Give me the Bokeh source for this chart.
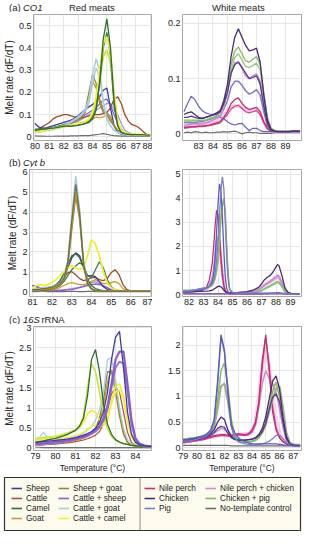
from bokeh.plotting import figure
from bokeh.layouts import column, row
from bokeh.models import FixedTicker, Legend, LegendItem, Range1d, Span
from bokeh.core.properties import value
from bokeh.embed import file_html
from bokeh.resources import INLINE

FONT = "Liberation Sans"

# ---------------- colours of the series ----------------
COL = {
    "Sheep": "#3c3c9e", "Cattle": "#b0503a", "Camel": "#2e6b36", "Goat": "#c99a36",
    "Sheep + goat": "#8c8a3a", "Cattle + sheep": "#8c5ccc", "Cattle + goat": "#a8cce2",
    "Cattle + camel": "#eeee3a", "Nile perch": "#c0306e", "Chicken": "#4a2a7c",
    "Pig": "#7c7cc8", "Nile perch + chicken": "#cc8ed2", "Chicken + pig": "#82bc62",
    "No-template control": "#6e6e6e",
}
LEG_COL1 = ["Sheep", "Cattle", "Camel", "Goat"]
LEG_COL2 = ["Sheep + goat", "Cattle + sheep", "Cattle + goat", "Cattle + camel"]
LEG_COL3 = ["Nile perch", "Chicken", "Pig"]
LEG_COL4 = ["Nile perch + chicken", "Chicken + pig", "No-template control"]

# panel headings: (text, style)
HEAD_A = [("(a)", "normal"), ("CO1", "italic")]
HEAD_B = [("(b)", "normal"), ("Cyt b", "italic")]
HEAD_C = [("(c)", "normal"), ("16S", "italic"), ("rRNA", "normal")]
COL_TITLES = ["Red meats", "White meats"]

# ---------------- (a) CO1, red meats ----------------
XA_RED = [80.0, 80.25, 80.5, 80.75, 81.0, 81.25, 81.5, 81.75, 82.0, 82.25, 82.5, 82.75,
          83.0, 83.25, 83.5, 83.75, 84.0, 84.25, 84.5, 84.75, 85.0, 85.25, 85.5, 85.75,
          86.0, 86.25, 86.5, 86.75, 87.0, 87.25, 87.5, 87.75, 88.0]
a_sheep = [0.060, 0.045, 0.040, 0.040, 0.045, 0.050, 0.055, 0.060, 0.065, 0.070, 0.075, 0.085,
           0.095, 0.110, 0.125, 0.135, 0.145, 0.160, 0.180, 0.210, 0.220, 0.130, 0.050, 0.020,
           0.012, 0.010, 0.010, 0.010, 0.010, 0.008, 0.008, 0.008, 0.008]
a_cattle = [0.030, 0.035, 0.045, 0.055, 0.065, 0.080, 0.090, 0.095, 0.100, 0.100, 0.095, 0.090,
            0.085, 0.085, 0.090, 0.095, 0.100, 0.100, 0.100, 0.105, 0.110, 0.130, 0.170, 0.180,
            0.150, 0.100, 0.070, 0.055, 0.050, 0.040, 0.025, 0.012, 0.008]
a_camel_1 = [0.030, 0.032, 0.035, 0.035, 0.038, 0.040, 0.042, 0.045, 0.048, 0.050, 0.048, 0.050,
             0.052, 0.055, 0.060, 0.065, 0.080, 0.120, 0.250, 0.440, 0.530, 0.400, 0.160, 0.050,
             0.020, 0.015, 0.012, 0.010, 0.010, 0.010, 0.010, 0.008, 0.008]
a_camel_2 = [0.035, 0.036, 0.038, 0.040, 0.040, 0.042, 0.045, 0.048, 0.050, 0.050, 0.050, 0.052,
             0.055, 0.058, 0.062, 0.070, 0.090, 0.130, 0.240, 0.400, 0.470, 0.360, 0.140, 0.050,
             0.020, 0.015, 0.012, 0.010, 0.010, 0.010, 0.010, 0.008, 0.008]
a_goat = [0.030, 0.030, 0.032, 0.035, 0.038, 0.040, 0.042, 0.045, 0.048, 0.050, 0.052, 0.055,
          0.060, 0.065, 0.070, 0.075, 0.080, 0.090, 0.085, 0.090, 0.100, 0.080, 0.050, 0.030,
          0.020, 0.015, 0.012, 0.010, 0.010, 0.008, 0.008, 0.008, 0.008]
a_sheep_goat = [0.030, 0.030, 0.032, 0.035, 0.038, 0.040, 0.045, 0.050, 0.055, 0.060, 0.065, 0.070,
                0.080, 0.090, 0.120, 0.200, 0.280, 0.240, 0.170, 0.120, 0.100, 0.070, 0.050, 0.030,
                0.020, 0.015, 0.012, 0.010, 0.010, 0.010, 0.008, 0.008, 0.008]
a_sheep_goat_2 = [0.030, 0.030, 0.032, 0.035, 0.038, 0.040, 0.045, 0.050, 0.055, 0.058, 0.062, 0.068,
                  0.075, 0.085, 0.110, 0.180, 0.250, 0.220, 0.150, 0.110, 0.110, 0.090, 0.050, 0.030,
                  0.020, 0.015, 0.012, 0.010, 0.010, 0.010, 0.008, 0.008, 0.008]
a_cattle_sheep = [0.030, 0.030, 0.032, 0.035, 0.038, 0.040, 0.045, 0.050, 0.055, 0.060, 0.065, 0.070,
                  0.080, 0.090, 0.100, 0.110, 0.120, 0.130, 0.150, 0.165, 0.170, 0.140, 0.100, 0.060,
                  0.035, 0.020, 0.015, 0.012, 0.010, 0.010, 0.008, 0.008, 0.008]
a_cattle_sheep_2 = [0.025, 0.028, 0.030, 0.032, 0.035, 0.038, 0.040, 0.045, 0.050, 0.055, 0.060, 0.065,
                    0.070, 0.080, 0.090, 0.100, 0.110, 0.120, 0.130, 0.140, 0.150, 0.150, 0.120, 0.100,
                    0.060, 0.030, 0.020, 0.015, 0.012, 0.010, 0.008, 0.008, 0.008]
a_cattle_goat = [0.020, 0.022, 0.025, 0.030, 0.032, 0.035, 0.040, 0.045, 0.050, 0.060, 0.070, 0.080,
                 0.090, 0.105, 0.125, 0.170, 0.280, 0.350, 0.300, 0.160, 0.080, 0.050, 0.030, 0.020,
                 0.015, 0.012, 0.010, 0.010, 0.010, 0.010, 0.008, 0.008, 0.008]
a_cattle_goat_2 = [0.020, 0.022, 0.025, 0.028, 0.030, 0.033, 0.038, 0.042, 0.048, 0.055, 0.065, 0.075,
                   0.085, 0.100, 0.115, 0.150, 0.240, 0.310, 0.270, 0.150, 0.080, 0.050, 0.030, 0.020,
                   0.015, 0.012, 0.010, 0.010, 0.010, 0.010, 0.008, 0.008, 0.008]
a_cattle_camel_1 = [0.020, 0.025, 0.028, 0.030, 0.035, 0.040, 0.042, 0.045, 0.050, 0.050, 0.052, 0.055,
                    0.060, 0.062, 0.068, 0.080, 0.110, 0.180, 0.300, 0.420, 0.450, 0.380, 0.200, 0.070,
                    0.030, 0.020, 0.015, 0.012, 0.010, 0.010, 0.010, 0.008, 0.008]
a_cattle_camel_2 = [0.025, 0.028, 0.030, 0.032, 0.035, 0.038, 0.040, 0.042, 0.045, 0.048, 0.050, 0.052,
                    0.055, 0.060, 0.065, 0.075, 0.100, 0.150, 0.250, 0.360, 0.390, 0.330, 0.180, 0.070,
                    0.030, 0.020, 0.015, 0.012, 0.010, 0.010, 0.010, 0.008, 0.008]
a_ntc = [0.005, 0.004, 0.004, 0.003, 0.003, 0.003, 0.004, 0.004, 0.004, 0.004, 0.005, 0.005,
         0.005, 0.006, 0.006, 0.006, 0.008, 0.010, 0.012, 0.015, 0.012, 0.008, 0.006, 0.005,
         0.004, 0.004, 0.003, 0.003, 0.003, 0.003, 0.003, 0.003, 0.003]

# ---------------- (a) CO1, white meats ----------------
XA_WHITE = [82.0, 82.25, 82.5, 82.75, 83.0, 83.25, 83.5, 83.75, 84.0, 84.25, 84.5, 84.75,
            85.0, 85.25, 85.5, 85.75, 86.0, 86.25, 86.5, 86.75, 87.0, 87.25, 87.5, 87.75,
            88.0, 88.25, 88.5, 88.75, 89.0, 89.25, 89.5, 89.75, 90.0]
aw_chicken_1 = [0.035, 0.038, 0.040, 0.035, 0.030, 0.028, 0.030, 0.032, 0.035, 0.038, 0.042, 0.060,
                0.090, 0.140, 0.175, 0.190, 0.175, 0.160, 0.150, 0.152, 0.155, 0.130, 0.070, 0.025,
                0.008, 0.005, 0.004, 0.004, 0.004, 0.004, 0.005, 0.005, 0.005]
aw_chicken_2 = [0.030, 0.030, 0.032, 0.030, 0.028, 0.028, 0.030, 0.032, 0.034, 0.036, 0.040, 0.055,
                0.075, 0.110, 0.125, 0.130, 0.120, 0.110, 0.100, 0.102, 0.105, 0.090, 0.050, 0.018,
                0.006, 0.005, 0.004, 0.004, 0.004, 0.004, 0.005, 0.005, 0.005]
aw_chicken_pig_1 = [0.025, 0.025, 0.025, 0.025, 0.025, 0.025, 0.025, 0.028, 0.030, 0.033, 0.040, 0.060,
                    0.085, 0.125, 0.150, 0.157, 0.145, 0.132, 0.130, 0.135, 0.140, 0.125, 0.075, 0.030,
                    0.010, 0.006, 0.005, 0.005, 0.005, 0.005, 0.005, 0.005, 0.005]
aw_chicken_pig_2 = [0.022, 0.022, 0.023, 0.023, 0.024, 0.024, 0.025, 0.027, 0.029, 0.032, 0.038, 0.056,
                    0.080, 0.115, 0.138, 0.145, 0.134, 0.122, 0.120, 0.124, 0.128, 0.115, 0.070, 0.028,
                    0.010, 0.006, 0.005, 0.005, 0.005, 0.005, 0.005, 0.005, 0.005]
aw_np_chicken = [0.015, 0.016, 0.018, 0.018, 0.018, 0.018, 0.020, 0.022, 0.025, 0.028, 0.032, 0.050,
                 0.075, 0.110, 0.128, 0.130, 0.120, 0.105, 0.100, 0.105, 0.108, 0.095, 0.055, 0.020,
                 0.008, 0.005, 0.004, 0.004, 0.004, 0.004, 0.004, 0.004, 0.004]
aw_pig_1 = [0.020, 0.020, 0.020, 0.020, 0.022, 0.022, 0.024, 0.026, 0.028, 0.030, 0.032, 0.045,
            0.060, 0.085, 0.095, 0.095, 0.088, 0.078, 0.072, 0.075, 0.080, 0.070, 0.040, 0.015,
            0.006, 0.005, 0.004, 0.004, 0.004, 0.004, 0.004, 0.004, 0.004]
aw_pig_2 = [0.040, 0.055, 0.068, 0.062, 0.050, 0.042, 0.038, 0.036, 0.035, 0.035, 0.030, 0.027,
            0.022, 0.018, 0.016, 0.018, 0.019, 0.012, 0.006, 0.010, 0.010, 0.006, 0.004, 0.004,
            0.004, 0.004, 0.004, 0.004, 0.004, 0.004, 0.004, 0.004, 0.004]
aw_nile_perch_1 = [0.012, 0.012, 0.013, 0.013, 0.014, 0.014, 0.015, 0.016, 0.018, 0.020, 0.022, 0.030,
                   0.040, 0.055, 0.062, 0.065, 0.055, 0.048, 0.044, 0.046, 0.048, 0.040, 0.022, 0.010,
                   0.005, 0.004, 0.004, 0.004, 0.004, 0.004, 0.004, 0.004, 0.004]
aw_nile_perch_2 = [0.010, 0.011, 0.012, 0.012, 0.013, 0.013, 0.014, 0.015, 0.016, 0.018, 0.020, 0.027,
                   0.035, 0.045, 0.050, 0.052, 0.046, 0.040, 0.038, 0.040, 0.042, 0.035, 0.020, 0.009,
                   0.005, 0.004, 0.004, 0.004, 0.004, 0.004, 0.004, 0.004, 0.004]
aw_nile_perch_3 = [0.014, 0.014, 0.015, 0.015, 0.016, 0.016, 0.017, 0.018, 0.020, 0.022, 0.025, 0.033,
                   0.042, 0.048, 0.050, 0.050, 0.047, 0.044, 0.042, 0.043, 0.044, 0.038, 0.022, 0.010,
                   0.005, 0.004, 0.004, 0.004, 0.004, 0.004, 0.004, 0.004, 0.004]
aw_ntc = [0.002, 0.003, 0.002, 0.004, 0.003, 0.002, 0.003, 0.002, 0.002, 0.003, 0.003, 0.004,
          0.003, 0.004, 0.005, 0.003, 0.000, 0.002, 0.003, 0.002, 0.002, 0.001, 0.001, 0.001,
          0.001, 0.002, 0.002, 0.002, 0.002, 0.002, 0.002, 0.002, 0.002]

# ---------------- (b) Cyt b, red meats ----------------
XB_RED = [81.0, 81.2, 81.4, 81.6, 81.8, 82.0, 82.2, 82.4, 82.6, 82.8, 83.0, 83.2, 83.4, 83.6, 83.8,
          84.0, 84.2, 84.4, 84.6, 84.8, 85.0, 85.2, 85.4, 85.6, 85.8, 86.0, 86.2, 86.4, 86.6, 86.8, 87.0]
b_cattle_goat = [0.15, 0.15, 0.18, 0.20, 0.22, 0.25, 0.30, 0.40, 0.70, 1.60, 3.80, 5.80, 4.10, 1.50, 0.45,
                 0.15, 0.06, 0.03, 0.02, 0.02, 0.02, 0.02, 0.02, 0.02, 0.02, 0.02, 0.02, 0.02, 0.02, 0.02, 0.02]
b_sheep_goat = [0.10, 0.10, 0.12, 0.15, 0.18, 0.22, 0.28, 0.38, 0.65, 1.50, 3.60, 5.40, 3.90, 1.40, 0.42,
                0.14, 0.05, 0.03, 0.02, 0.02, 0.02, 0.02, 0.02, 0.02, 0.02, 0.02, 0.02, 0.02, 0.02, 0.02, 0.02]
b_goat = [0.08, 0.08, 0.10, 0.12, 0.15, 0.18, 0.24, 0.35, 0.60, 1.40, 3.30, 5.00, 3.70, 1.35, 0.40,
          0.13, 0.05, 0.03, 0.02, 0.02, 0.02, 0.02, 0.02, 0.02, 0.02, 0.02, 0.02, 0.02, 0.02, 0.02, 0.02]
b_goat_2 = [0.06, 0.06, 0.08, 0.10, 0.12, 0.15, 0.20, 0.30, 0.55, 1.30, 3.10, 4.80, 3.60, 1.30, 0.38,
            0.12, 0.05, 0.03, 0.02, 0.02, 0.02, 0.02, 0.02, 0.02, 0.02, 0.02, 0.02, 0.02, 0.02, 0.02, 0.02]
b_cattle_camel = [0.20, 0.30, 0.35, 0.30, 0.35, 0.45, 0.60, 0.80, 1.00, 1.20, 1.30, 1.20, 1.10, 1.25, 1.80,
                  2.60, 2.40, 1.80, 1.00, 0.45, 0.20, 0.10, 0.06, 0.04, 0.03, 0.02, 0.02, 0.02, 0.02, 0.02, 0.02]
b_camel_1 = [0.10, 0.10, 0.12, 0.15, 0.20, 0.25, 0.35, 0.55, 0.90, 1.40, 1.80, 1.90, 1.70, 1.20, 0.60,
             0.30, 0.15, 0.08, 0.05, 0.03, 0.02, 0.02, 0.02, 0.02, 0.02, 0.02, 0.02, 0.02, 0.02, 0.02, 0.02]
b_camel_2 = [0.05, 0.05, 0.06, 0.08, 0.10, 0.15, 0.20, 0.30, 0.50, 0.80, 1.10, 1.30, 1.45, 1.30, 0.80,
             0.70, 1.10, 1.50, 1.20, 0.60, 0.25, 0.10, 0.05, 0.03, 0.02, 0.02, 0.02, 0.02, 0.02, 0.02, 0.02]
b_cattle = [0.05, 0.05, 0.06, 0.08, 0.10, 0.15, 0.25, 0.45, 0.70, 0.95, 1.00, 0.85, 0.65, 0.55, 0.60,
            0.70, 0.70, 0.60, 0.55, 0.65, 0.95, 1.10, 0.85, 0.35, 0.10, 0.03, 0.02, 0.02, 0.02, 0.02, 0.02]
b_goat_low = [0.03, 0.03, 0.04, 0.05, 0.06, 0.08, 0.12, 0.20, 0.30, 0.40, 0.45, 0.40, 0.35, 0.35, 0.40,
              0.50, 0.60, 0.50, 0.40, 0.40, 0.45, 0.50, 0.40, 0.15, 0.05, 0.02, 0.02, 0.02, 0.02, 0.02, 0.02]
b_sheep = [0.30, 0.25, 0.18, 0.15, 0.15, 0.18, 0.25, 0.40, 0.70, 1.20, 1.70, 1.95, 1.80, 1.20, 0.80,
           0.80, 0.75, 0.50, 0.25, 0.10, 0.05, 0.03, 0.02, 0.02, 0.02, 0.02, 0.02, 0.02, 0.02, 0.02, 0.02]
b_cattle_sheep = [0.30, 0.25, 0.15, 0.10, 0.08, 0.06, 0.05, 0.05, 0.06, 0.08, 0.10, 0.15, 0.20, 0.25, 0.30,
                  0.35, 0.38, 0.35, 0.30, 0.20, 0.10, 0.05, 0.03, 0.02, 0.02, 0.02, 0.02, 0.02, 0.02, 0.02, 0.02]
b_cattle_sheep_2 = [0.05, 0.05, 0.05, 0.05, 0.06, 0.06, 0.07, 0.08, 0.10, 0.12, 0.15, 0.18, 0.22, 0.28, 0.35,
                    0.45, 0.50, 0.40, 0.25, 0.12, 0.06, 0.03, 0.02, 0.02, 0.02, 0.02, 0.02, 0.02, 0.02, 0.02, 0.02]
b_ntc = [0.00, 0.00, 0.01, 0.01, 0.00, 0.00, 0.01, 0.00, 0.00, 0.01, 0.01, 0.01, 0.00, 0.00, 0.01,
         0.01, 0.00, 0.00, 0.01, 0.00, 0.00, 0.01, 0.00, 0.00, 0.00, 0.00, 0.01, 0.00, 0.00, 0.00, 0.00]

# ---------------- (b) Cyt b, white meats ----------------
XB_WHITE = [81.6, 82.0, 82.4, 82.8, 83.2, 83.4, 83.6, 83.7, 83.8, 83.9, 84.0, 84.1, 84.2, 84.3, 84.4,
            84.5, 84.6, 84.7, 84.8, 85.0, 85.4, 86.0, 86.4, 86.8, 87.0, 87.2, 87.4, 87.6, 87.8, 88.0,
            88.1, 88.2, 88.4, 88.6, 88.8, 89.0, 89.6]
bw_pig_1 = [0.15, 0.15, 0.20, 0.25, 0.30, 0.35, 0.45, 0.60, 0.90, 1.40, 2.20, 3.30, 4.40, 4.90, 4.40,
            3.00, 1.50, 0.60, 0.20, 0.08, 0.06, 0.06, 0.06, 0.06, 0.06, 0.06, 0.06, 0.06, 0.06, 0.06,
            0.06, 0.06, 0.05, 0.05, 0.04, 0.03, 0.02]
bw_pig_2 = [0.12, 0.12, 0.15, 0.20, 0.28, 0.35, 0.55, 0.85, 1.50, 2.60, 3.80, 4.60, 4.30, 3.20, 1.80,
            0.70, 0.25, 0.10, 0.06, 0.05, 0.05, 0.05, 0.05, 0.05, 0.05, 0.05, 0.05, 0.05, 0.05, 0.05,
            0.05, 0.05, 0.05, 0.04, 0.03, 0.03, 0.02]
bw_chicken = [0.12, 0.12, 0.12, 0.13, 0.14, 0.15, 0.18, 0.22, 0.26, 0.30, 0.34, 0.35, 0.32, 0.26, 0.18,
              0.12, 0.10, 0.09, 0.08, 0.08, 0.09, 0.12, 0.18, 0.30, 0.45, 0.62, 0.72, 0.80, 0.95, 1.15,
              1.25, 1.20, 0.80, 0.30, 0.10, 0.05, 0.03]
bw_chicken_pig_1 = [0.18, 0.18, 0.20, 0.25, 0.28, 0.30, 0.40, 0.50, 0.70, 1.00, 1.50, 2.30, 3.20, 3.80, 4.00,
                    3.40, 2.00, 0.80, 0.25, 0.08, 0.06, 0.06, 0.08, 0.12, 0.18, 0.25, 0.32, 0.38, 0.45, 0.52,
                    0.55, 0.52, 0.35, 0.12, 0.05, 0.03, 0.02]
bw_chicken_pig_2 = [0.16, 0.16, 0.18, 0.22, 0.26, 0.30, 0.38, 0.48, 0.66, 0.95, 1.40, 2.20, 3.10, 3.70, 3.90,
                    3.30, 1.90, 0.75, 0.22, 0.07, 0.05, 0.05, 0.07, 0.10, 0.15, 0.22, 0.28, 0.34, 0.40, 0.46,
                    0.50, 0.47, 0.32, 0.11, 0.05, 0.03, 0.02]
bw_nile_perch = [0.10, 0.10, 0.12, 0.15, 0.30, 0.60, 1.30, 2.00, 2.90, 3.50, 3.30, 2.50, 1.50, 0.80, 0.35,
                 0.15, 0.07, 0.04, 0.03, 0.03, 0.03, 0.03, 0.03, 0.03, 0.03, 0.03, 0.03, 0.03, 0.03, 0.03,
                 0.03, 0.03, 0.03, 0.03, 0.03, 0.03, 0.03]
bw_np_chicken = [0.12, 0.12, 0.14, 0.18, 0.25, 0.35, 0.65, 1.00, 1.60, 2.20, 2.40, 2.20, 1.60, 0.90, 0.40,
                 0.15, 0.08, 0.06, 0.05, 0.05, 0.06, 0.08, 0.12, 0.20, 0.30, 0.40, 0.48, 0.55, 0.65, 0.75,
                 0.80, 0.75, 0.50, 0.18, 0.06, 0.03, 0.02]
bw_np_chicken_2 = [0.12, 0.12, 0.14, 0.18, 0.24, 0.32, 0.55, 0.85, 1.35, 1.85, 2.00, 1.80, 1.30, 0.75, 0.35,
                   0.14, 0.08, 0.06, 0.05, 0.05, 0.06, 0.08, 0.12, 0.18, 0.28, 0.36, 0.44, 0.50, 0.58, 0.66,
                   0.70, 0.66, 0.45, 0.16, 0.06, 0.03, 0.02]
bw_ntc = [0.03, 0.03, 0.03, 0.03, 0.03, 0.03, 0.03, 0.03, 0.03, 0.03, 0.03, 0.03, 0.03, 0.03, 0.03,
          0.03, 0.03, 0.03, 0.03, 0.03, 0.03, 0.03, 0.03, 0.03, 0.03, 0.04, 0.04, 0.05, 0.06, 0.07,
          0.08, 0.07, 0.05, 0.04, 0.03, 0.03, 0.03]

# ---------------- (c) 16S rRNA, red meats ----------------
XC_RED = [79.0, 79.2, 79.4, 79.6, 79.8, 80.0, 80.2, 80.4, 80.6, 80.8, 81.0, 81.2, 81.4, 81.6, 81.8,
          82.0, 82.2, 82.4, 82.6, 82.8, 83.0, 83.2, 83.4, 83.6, 83.8, 84.0, 84.2, 84.4, 84.6, 84.8]
c_sheep = [0.15, 0.16, 0.17, 0.18, 0.19, 0.20, 0.21, 0.22, 0.23, 0.25, 0.27, 0.30, 0.33, 0.37, 0.42,
           0.50, 0.65, 0.90, 1.40, 2.20, 2.75, 2.90, 2.00, 0.90, 0.35, 0.15, 0.09, 0.07, 0.06, 0.05]
c_cattle_sheep = [0.12, 0.12, 0.13, 0.14, 0.15, 0.16, 0.17, 0.18, 0.20, 0.22, 0.24, 0.27, 0.30, 0.33, 0.38,
                  0.45, 0.55, 0.75, 1.05, 1.60, 2.20, 2.40, 2.40, 1.60, 0.70, 0.25, 0.12, 0.08, 0.06, 0.05]
c_cattle_sheep_2 = [0.10, 0.10, 0.11, 0.12, 0.13, 0.14, 0.15, 0.16, 0.18, 0.20, 0.22, 0.25, 0.28, 0.31, 0.36,
                    0.42, 0.52, 0.70, 1.00, 1.50, 2.00, 2.15, 2.10, 1.40, 0.60, 0.22, 0.11, 0.07, 0.06, 0.05]
c_camel = [0.15, 0.17, 0.19, 0.21, 0.23, 0.25, 0.28, 0.31, 0.35, 0.40, 0.45, 0.55, 0.75, 1.30, 2.20,
           2.45, 1.90, 1.10, 0.60, 0.35, 0.22, 0.16, 0.12, 0.10, 0.08, 0.07, 0.06, 0.06, 0.05, 0.05]
c_cattle_camel_1 = [0.25, 0.26, 0.27, 0.28, 0.29, 0.30, 0.32, 0.35, 0.38, 0.42, 0.46, 0.55, 0.80, 1.50, 2.10,
                    1.90, 1.40, 0.85, 0.50, 0.30, 0.20, 0.15, 0.12, 0.10, 0.09, 0.08, 0.07, 0.06, 0.06, 0.05]
c_cattle_camel_2 = [0.20, 0.22, 0.24, 0.26, 0.28, 0.30, 0.32, 0.35, 0.38, 0.42, 0.45, 0.50, 0.65, 0.85, 0.95,
                    0.90, 0.70, 0.60, 0.75, 1.20, 1.55, 1.60, 1.30, 0.70, 0.30, 0.15, 0.10, 0.08, 0.07, 0.06]
c_cattle_camel_3 = [0.18, 0.19, 0.20, 0.21, 0.22, 0.23, 0.24, 0.26, 0.28, 0.30, 0.32, 0.35, 0.40, 0.48, 0.55,
                    0.58, 0.55, 0.55, 0.70, 1.10, 1.40, 1.45, 1.20, 0.65, 0.28, 0.14, 0.09, 0.07, 0.06, 0.05]
c_cattle_goat = [0.20, 0.28, 0.40, 0.28, 0.22, 0.22, 0.23, 0.24, 0.25, 0.27, 0.30, 0.33, 0.38, 0.45, 0.55,
                 0.70, 0.95, 1.40, 2.20, 2.25, 1.70, 1.00, 0.50, 0.22, 0.12, 0.08, 0.06, 0.05, 0.05, 0.05]
c_sheep_goat = [0.10, 0.11, 0.12, 0.13, 0.14, 0.15, 0.16, 0.17, 0.18, 0.20, 0.22, 0.25, 0.28, 0.33, 0.40,
                0.50, 0.75, 1.20, 1.90, 1.90, 1.40, 0.80, 0.35, 0.15, 0.08, 0.06, 0.05, 0.05, 0.04, 0.04]
c_goat = [0.08, 0.09, 0.10, 0.11, 0.12, 0.13, 0.14, 0.15, 0.16, 0.18, 0.20, 0.22, 0.25, 0.30, 0.36,
          0.45, 0.65, 1.05, 1.65, 1.95, 1.60, 0.95, 0.40, 0.16, 0.08, 0.06, 0.05, 0.05, 0.04, 0.04]
c_cattle = [0.08, 0.08, 0.09, 0.10, 0.10, 0.11, 0.12, 0.13, 0.14, 0.15, 0.17, 0.19, 0.21, 0.24, 0.28,
            0.33, 0.42, 0.60, 0.95, 1.35, 1.50, 1.40, 0.90, 0.40, 0.15, 0.08, 0.06, 0.05, 0.04, 0.04]
c_ntc = [0.03, 0.03, 0.02, 0.02, 0.02, 0.02, 0.02, 0.02, 0.02, 0.02, 0.02, 0.02, 0.02, 0.02, 0.02,
         0.02, 0.02, 0.02, 0.02, 0.02, 0.02, 0.02, 0.02, 0.02, 0.02, 0.02, 0.02, 0.02, 0.02, 0.02]

# ---------------- (c) 16S rRNA, white meats ----------------
XC_WHITE = [79.0, 79.25, 79.5, 79.75, 80.0, 80.25, 80.5, 80.75, 81.0, 81.25, 81.5, 81.75,
            82.0, 82.25, 82.5, 82.75, 83.0, 83.25, 83.5, 83.75, 84.0, 84.25, 84.5, 84.75,
            85.0, 85.25, 85.5, 85.75, 86.0, 86.25, 86.5, 86.75, 87.0, 87.25, 87.5]
cw_pig_1 = [0.15, 0.16, 0.17, 0.18, 0.20, 0.22, 0.24, 0.28, 0.35, 0.55, 1.30, 2.20,
            1.90, 1.10, 0.45, 0.30, 0.20, 0.15, 0.12, 0.10, 0.08, 0.08, 0.08, 0.08,
            0.08, 0.08, 0.08, 0.08, 0.07, 0.06, 0.05, 0.05, 0.04, 0.04, 0.04]
cw_pig_2 = [0.12, 0.13, 0.14, 0.15, 0.17, 0.19, 0.21, 0.25, 0.32, 0.50, 1.20, 2.15,
            1.85, 1.00, 0.40, 0.20, 0.12, 0.10, 0.08, 0.07, 0.06, 0.06, 0.07, 0.08,
            0.10, 0.13, 0.18, 0.24, 0.25, 0.18, 0.10, 0.06, 0.04, 0.03, 0.03]
cw_chicken_pig_1 = [0.18, 0.18, 0.19, 0.20, 0.21, 0.22, 0.24, 0.27, 0.32, 0.45, 0.90, 1.50,
                    1.65, 1.20, 0.55, 0.25, 0.15, 0.12, 0.12, 0.12, 0.13, 0.15, 0.20, 0.30,
                    0.50, 0.80, 1.10, 1.28, 1.00, 0.55, 0.18, 0.08, 0.06, 0.05, 0.05]
cw_chicken_pig_2 = [0.16, 0.17, 0.18, 0.19, 0.20, 0.21, 0.23, 0.26, 0.30, 0.40, 0.75, 1.20,
                    1.25, 0.90, 0.45, 0.22, 0.14, 0.12, 0.12, 0.12, 0.13, 0.15, 0.20, 0.30,
                    0.45, 0.70, 0.95, 1.15, 1.20, 0.80, 0.30, 0.10, 0.06, 0.05, 0.05]
cw_chicken = [0.15, 0.16, 0.17, 0.18, 0.19, 0.20, 0.22, 0.24, 0.28, 0.35, 0.50, 0.60,
              0.55, 0.35, 0.22, 0.17, 0.15, 0.15, 0.15, 0.16, 0.17, 0.20, 0.26, 0.38,
              0.60, 0.95, 1.30, 1.40, 1.15, 0.60, 0.22, 0.08, 0.06, 0.05, 0.05]
cw_chicken_2 = [0.12, 0.13, 0.14, 0.15, 0.16, 0.17, 0.19, 0.21, 0.25, 0.30, 0.38, 0.42,
                0.40, 0.28, 0.20, 0.16, 0.15, 0.15, 0.15, 0.16, 0.17, 0.19, 0.24, 0.32,
                0.48, 0.75, 0.98, 1.05, 0.90, 0.50, 0.18, 0.07, 0.05, 0.04, 0.04]
cw_nile_perch = [0.12, 0.13, 0.14, 0.15, 0.16, 0.17, 0.18, 0.20, 0.22, 0.24, 0.25, 0.26,
                 0.26, 0.25, 0.24, 0.26, 0.28, 0.27, 0.26, 0.28, 0.35, 0.50, 0.90, 1.70,
                 2.20, 1.50, 0.70, 0.35, 0.20, 0.12, 0.08, 0.06, 0.05, 0.05, 0.05]
cw_nile_perch_2 = [0.10, 0.11, 0.12, 0.13, 0.14, 0.15, 0.16, 0.18, 0.20, 0.22, 0.23, 0.24,
                   0.24, 0.23, 0.22, 0.24, 0.26, 0.25, 0.24, 0.26, 0.32, 0.45, 0.85, 1.60,
                   2.15, 1.60, 0.80, 0.40, 0.20, 0.12, 0.08, 0.06, 0.05, 0.05, 0.04]
cw_np_chicken = [0.10, 0.11, 0.12, 0.13, 0.14, 0.15, 0.17, 0.20, 0.24, 0.28, 0.33, 0.38,
                 0.36, 0.30, 0.25, 0.24, 0.25, 0.25, 0.25, 0.26, 0.30, 0.45, 0.80, 1.25,
                 1.50, 1.35, 1.25, 1.10, 0.75, 0.40, 0.15, 0.08, 0.06, 0.05, 0.05]
cw_np_band = [0.15, 0.15, 0.16, 0.16, 0.17, 0.18, 0.19, 0.20, 0.21, 0.22, 0.23, 0.24,
              0.24, 0.24, 0.24, 0.25, 0.26, 0.26, 0.27, 0.28, 0.32, 0.50, 1.00, 1.60,
              1.90, 1.60, 1.00, 0.55, 0.30, 0.15, 0.10, 0.08, 0.06, 0.05, 0.05]
cw_ntc = [0.05, 0.05, 0.05, 0.05, 0.05, 0.05, 0.05, 0.05, 0.05, 0.05, 0.05, 0.05,
          0.05, 0.05, 0.04, 0.04, 0.04, 0.04, 0.04, 0.04, 0.04, 0.04, 0.04, 0.04,
          0.04, 0.04, 0.04, 0.04, 0.04, 0.04, 0.04, 0.04, 0.04, 0.04, 0.04]

# tick values and labels
XT_A_RED = [80, 81, 82, 83, 84, 85, 86, 87, 88]
XT_A_WHITE = [83, 84, 85, 86, 87, 88, 89]
YT_A_RED = [0, 0.1, 0.2, 0.3, 0.4, 0.5]
YL_A_RED = ["0", "0.1", "0.2", "0.3", "0.4", "0.5"]
YT_A_WHITE = [0, 0.1, 0.2]
YL_A_WHITE = ["0", "0.1", "0.2"]
XT_B_RED = [81, 82, 83, 84, 85, 86, 87]
XT_B_WHITE = [82, 83, 84, 85, 86, 87, 88, 89]
YT_B_RED = [0, 1, 2, 3, 4, 5, 6]
YL_B_RED = ["0", "1", "2", "3", "4", "5", "6"]
YT_B_WHITE = [0, 1, 2, 3, 4, 5]
YL_B_WHITE = ["0", "1", "2", "3", "4", "5"]
XT_C_RED = [79, 80, 81, 82, 83, 84]
XT_C_WHITE = [79, 80, 81, 82, 83, 84, 85, 86, 87]
YT_C_RED = [0, 0.5, 1, 1.5, 2, 2.5, 3]
YL_C_RED = ["0", "0.5", "1", "1.5", "2", "2.5", "3"]
YT_C_WHITE = [0, 0.5, 1, 1.5, 2]
YL_C_WHITE = ["0", "0.5", "1", "1.5", "2"]

TXT = "#222222"


def make_panel(xs, curves, xr, yr, xticks, yticks, ylabels, w, h, bl, br, bt, bb,
               ylabel=None, xlabel=None, ylabel_size="10px"):
    p = figure(width=w, height=h, x_range=Range1d(*xr), y_range=Range1d(*yr),
               output_backend="svg", toolbar_location=None,
               min_border_left=bl, min_border_right=br, min_border_top=bt, min_border_bottom=bb)
    p.background_fill_color = "white"
    p.border_fill_color = "white"
    p.outline_line_color = "#a8a8a8"
    p.xgrid.grid_line_color = "#e6e6e6"
    p.ygrid.grid_line_color = "#e6e6e6"
    for ys, color, lw, alpha in curves:
        if len(ys) != len(xs):
            raise ValueError("length mismatch %d vs %d" % (len(ys), len(xs)))
        p.line(xs, ys, line_color=color, line_width=lw, line_alpha=alpha)
    p.xaxis.ticker = FixedTicker(ticks=xticks)
    p.yaxis.ticker = FixedTicker(ticks=yticks)
    p.yaxis.major_label_overrides = {t: l for t, l in zip(yticks, ylabels)}
    for ax in (p.xaxis[0], p.yaxis[0]):
        ax.major_label_text_font = FONT
        ax.major_label_text_font_size = "9px"
        ax.major_label_text_color = TXT
        ax.axis_line_color = None
        ax.major_tick_line_color = None
        ax.minor_tick_line_color = None
        ax.major_tick_out = 0
        ax.major_tick_in = 0
        ax.minor_tick_out = 0
        ax.major_label_standoff = 2
        ax.axis_label_text_font = FONT
        ax.axis_label_text_font_style = "normal"
        ax.axis_label_text_color = TXT
        ax.axis_label_standoff = 1
    if ylabel:
        p.yaxis.axis_label = ylabel
        p.yaxis.axis_label_text_font_size = ylabel_size
    if xlabel:
        p.xaxis.axis_label = xlabel
        p.xaxis.axis_label_text_font_size = "8.5px"
    return p


def make_header(parts, x_parts, titles=None, x_titles=None, h=12):
    hp = figure(width=305, height=h, x_range=Range1d(0, 305), y_range=Range1d(0, h),
                output_backend="svg", toolbar_location=None,
                x_axis_location=None, y_axis_location=None, min_border=0)
    hp.grid.visible = False
    hp.outline_line_color = None
    hp.background_fill_color = "white"
    hp.border_fill_color = "white"
    for (txt, style), x in zip(parts, x_parts):
        hp.text(x=[x], y=[h - 6.6], text=[txt], text_font=value(FONT), text_font_size=value("9.5px"),
                text_font_style=style, text_color=TXT, text_align="left", text_baseline="middle")
    if titles:
        for txt, x in zip(titles, x_titles):
            hp.text(x=[x], y=[h - 6.6], text=[txt], text_font=value(FONT), text_font_size=value("9.5px"),
                    text_color=TXT, text_align="center", text_baseline="middle")
    return hp


C = COL
YLAB = "Melt rate (dF/dT)"

pa1 = make_panel(XA_RED, [
    (a_ntc, C["No-template control"], 1.2, 1),
    (a_goat, C["Goat"], 1.2, 1),
    (a_cattle_sheep_2, "#a890d8", 1.2, 1),
    (a_cattle_sheep, C["Cattle + sheep"], 1.2, 1),
    (a_cattle, "#a8482a", 1.3, 1),
    (a_sheep, C["Sheep"], 1.3, 1),
    (a_sheep_goat_2, "#9a8440", 1.2, 1),
    (a_sheep_goat, C["Sheep + goat"], 1.3, 1),
    (a_cattle_goat_2, "#b6c4d6", 1.3, 1),
    (a_cattle_goat, C["Cattle + goat"], 1.5, 1),
    (a_cattle_camel_2, "#d0e43c", 1.8, 1),
    (a_camel_2, "#3f7f45", 1.3, 1),
    (a_cattle_camel_1, C["Cattle + camel"], 1.8, 1),
    (a_camel_1, C["Camel"], 1.3, 1),
], (79.9, 88.1), (-0.016, 0.55), XT_A_RED, YT_A_RED, YL_A_RED, 152, 143, 29, 1, 2, 15,
    ylabel=YLAB)

pa2 = make_panel(XA_WHITE, [
    (aw_ntc, C["No-template control"], 1.2, 1),
    (aw_nile_perch_3, "#f2a8dc", 3.5, 0.6),
    (aw_nile_perch_2, "#d04488", 1.2, 1),
    (aw_nile_perch_1, C["Nile perch"], 1.3, 1),
    (aw_pig_2, "#6464bc", 1.2, 1),
    (aw_pig_1, C["Pig"], 1.5, 1),
    (aw_np_chicken, C["Nile perch + chicken"], 1.8, 1),
    (aw_chicken_pig_2, "#94c878", 1.3, 1),
    (aw_chicken_pig_1, C["Chicken + pig"], 1.3, 1),
    (aw_chicken_2, "#5a3a8c", 1.3, 1),
    (aw_chicken_1, C["Chicken"], 1.3, 1),
], (81.9, 90.1), (-0.012, 0.216), XT_A_WHITE, YT_A_WHITE, YL_A_WHITE, 153, 143, 30, 4, 2, 15)

pb1 = make_panel(XB_RED, [
    (b_ntc, C["No-template control"], 1.2, 1),
    (b_cattle_sheep_2, "#a890d8", 1.2, 1),
    (b_cattle_sheep, C["Cattle + sheep"], 1.3, 1),
    (b_goat_low, C["Goat"], 1.2, 1),
    (b_cattle, "#9a4a28", 1.3, 1),
    (b_sheep, C["Sheep"], 1.3, 1),
    (b_camel_2, "#3f7f45", 1.3, 1),
    (b_camel_1, C["Camel"], 1.3, 1),
    (b_cattle_camel, C["Cattle + camel"], 1.8, 1),
    (b_cattle_goat, C["Cattle + goat"], 1.6, 1),
    (b_goat_2, "#8a7a30", 1.3, 1),
    (b_goat, C["Goat"], 1.3, 1),
    (b_sheep_goat, "#6a7040", 1.3, 1),
], (80.85, 87.05), (-0.25, 6.15), XT_B_RED, YT_B_RED, YL_B_RED, 152, 145, 29, 1, 2, 16,
    ylabel=YLAB)

pb2 = make_panel(XB_WHITE, [
    (bw_ntc, "#5a3a8c", 1.2, 1),
    (bw_np_chicken_2, "#e4a8dc", 2.0, 0.8),
    (bw_np_chicken, C["Nile perch + chicken"], 2.2, 1),
    (bw_nile_perch, C["Nile perch"], 1.3, 1),
    (bw_chicken_pig_2, "#94c878", 1.3, 1),
    (bw_chicken_pig_1, C["Chicken + pig"], 1.3, 1),
    (bw_chicken, C["Chicken"], 1.3, 1),
    (bw_pig_2, "#5c5cc0", 1.3, 1),
    (bw_pig_1, C["Pig"], 1.3, 1),
], (81.55, 89.75), (-0.08, 5.2), XT_B_WHITE, YT_B_WHITE, YL_B_WHITE, 153, 145, 30, 4, 2, 16)

pc1 = make_panel(XC_RED, [
    (c_ntc, C["No-template control"], 1.2, 1),
    (c_cattle, C["Cattle"], 1.2, 1),
    (c_goat, C["Goat"], 1.3, 1),
    (c_sheep_goat, C["Sheep + goat"], 1.3, 1),
    (c_cattle_goat, C["Cattle + goat"], 1.3, 1),
    (c_cattle_camel_3, "#f2ee50", 1.6, 1),
    (c_cattle_camel_2, C["Cattle + camel"], 1.6, 1),
    (c_cattle_camel_1, "#c9e33a", 1.6, 1),
    (c_camel, C["Camel"], 1.3, 1),
    (c_cattle_sheep_2, "#9a74d6", 2.0, 1),
    (c_cattle_sheep, C["Cattle + sheep"], 2.2, 1),
    (c_sheep, C["Sheep"], 1.3, 1),
], (78.9, 84.8), (-0.05, 3.02), XT_C_RED, YT_C_RED, YL_C_RED, 152, 151, 29, 1, 2, 24,
    ylabel=YLAB, xlabel="Temperature (\u00b0C)", ylabel_size="10px")

pc2 = make_panel(XC_WHITE, [
    (cw_ntc, C["No-template control"], 1.2, 1),
    (cw_np_band, "#f4b0e4", 4.0, 0.55),
    (cw_np_chicken, C["Nile perch + chicken"], 1.5, 1),
    (cw_nile_perch_2, "#d4408a", 1.3, 1),
    (cw_nile_perch, C["Nile perch"], 1.3, 1),
    (cw_chicken_pig_2, "#a4ac8c", 2.0, 1),
    (cw_chicken_pig_1, C["Chicken + pig"], 1.5, 1),
    (cw_chicken_2, "#5a3a8c", 1.3, 1),
    (cw_chicken, C["Chicken"], 1.3, 1),
    (cw_pig_2, "#7a7ad0", 1.3, 1),
    (cw_pig_1, "#5a5ac0", 1.3, 1),
], (78.95, 87.6), (-0.05, 2.36), XT_C_WHITE, YT_C_WHITE, YL_C_WHITE, 153, 151, 30, 4, 2, 24,
    xlabel="Temperature (\u00b0C)")

ha = make_header(HEAD_A, [4.75, 19.0], COL_TITLES, [90, 241])
hb = make_header(HEAD_B, [4.75, 19.0])
hc = make_header(HEAD_C, [4.75, 19.0, 38.0])

# ---------------- legend box ----------------
lf = figure(width=305, height=59, x_range=Range1d(0, 1), y_range=Range1d(0, 1),
            output_backend="svg", toolbar_location=None,
            x_axis_location=None, y_axis_location=None,
            min_border_left=4, min_border_right=5, min_border_top=2, min_border_bottom=4)
lf.grid.visible = False
lf.background_fill_color = "#fdfbee"
lf.border_fill_color = "white"
lf.outline_line_color = "#333333"
lf.outline_line_width = 1.2
lf.add_layout(Span(location=0.458, dimension="height", line_color="#8a8a8a", line_width=1))


def legend_at(names, x, y):
    items = []
    for n in names:
        r = lf.line(x=[-3, -2], y=[-3, -3], line_color=COL[n], line_width=1.6)
        items.append(LegendItem(label=n, renderers=[r]))
    lg = Legend(items=items, location=(x, y), orientation="vertical",
                label_text_font=FONT, label_text_font_size="8.2px", label_text_color=TXT,
                glyph_width=11, glyph_height=10, label_height=10, label_standoff=4,
                spacing=0, padding=0, margin=0,
                border_line_alpha=0, background_fill_alpha=0)
    lf.add_layout(lg, "center")


legend_at(LEG_COL1, 7, 7)
legend_at(LEG_COL2, 54, 7)
legend_at(LEG_COL3, 140, 17)
legend_at(LEG_COL4, 201, 17)

layout = column(ha, row(pa1, pa2), hb, row(pb1, pb2), hc, row(pc1, pc2), lf)

open("out.html", "w").write(file_html(layout, INLINE))
